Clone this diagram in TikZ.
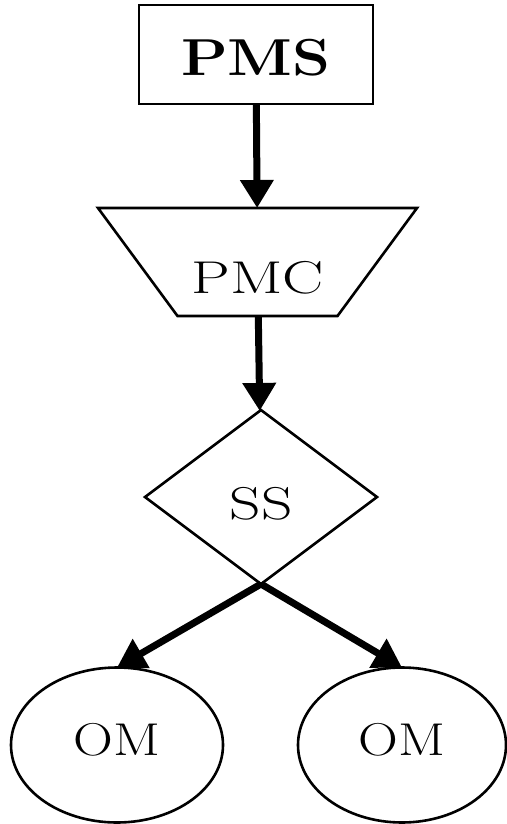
\documentclass[tikz,border=0pt]{standalone}
\usetikzlibrary{shapes.geometric,arrows.meta}
\newcommand{\liftxt}[3]{\smash{\raisebox{#1}{\scalebox{#2}[1]{#3}}}}
\tikzset{
  shp/.style={draw, line width=2.6pt, inner sep=2pt, outer sep=0pt,
              font=\fontsize{46}{50}\selectfont},
  border/.style={line width=2.6pt, line join=miter},
  conn/.style={line width=7pt, -{Triangle[length=28pt,width=32pt]}},
}
\begin{document}
\begin{tikzpicture}[x=1pt,y=-1pt]
\useasboundingbox (0,0) rectangle (506,824);
\node[shp, rectangle, minimum width=234pt, minimum height=99pt,
      font=\bfseries\fontsize{52}{58}\selectfont] (pms) at (256,54.5) {\liftxt{-21.3pt}{1.17}{PMS}};
\node[shp, draw=none, rectangle, minimum width=319pt, minimum height=108pt] (pmc) at (257.5,262) {\liftxt{-31.2pt}{1.34}{PMC}};
\draw[border] (pmc.north west) -- (pmc.north east) -- ([xshift=-79.5pt]pmc.south east)
  -- ([xshift=79.5pt]pmc.south west) -- cycle;
\node[shp, diamond, minimum width=232pt, minimum height=174pt, shape aspect=1.333] (ss) at (261,497) {\liftxt{-22.7pt}{1.34}{SS}};
\node[shp, ellipse, minimum width=212pt, minimum height=155pt] (om1) at (117,745) {\liftxt{-10.7pt}{1.2}{OM}};
\node[shp, ellipse, minimum width=208pt, minimum height=155pt] (om2) at (402,745) {\liftxt{-10.7pt}{1.2}{OM}};
\draw[conn] (pms) -- (pmc);
\draw[conn] (pmc) -- (ss);
\draw[conn] (ss.south) -- (om1.north);
\draw[conn] (ss.south) -- (om2.north);
\end{tikzpicture}
\end{document}
